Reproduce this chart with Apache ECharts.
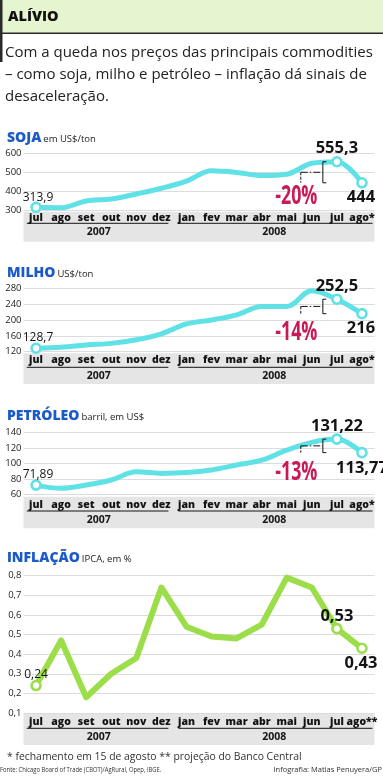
<!DOCTYPE html>
<html>
<head>
<meta charset="utf-8">
<script src="https://cdn.jsdelivr.net/npm/echarts@6/dist/echarts.min.js"></script>
<style>
html,body{margin:0;padding:0;background:#fff;}
#c{width:383px;height:776px;}
</style>
</head>
<body>
<div id="c"></div>
<script>
// ---- data ----
const months = ['jul','ago','set','out','nov','dez','jan','fev','mar','abr','mai','jun','jul','ago*'];
const monthsInfl = ['jul','ago','set','out','nov','dez','jan','fev','mar','abr','mai','jun','jul','ago**'];
const years = ['2007','2008'];
const soja = [313.9, 312, 348, 358, 385, 415, 453, 508, 499, 482, 489, 547, 555.3, 444];
const milho = [128.7, 131, 137, 141, 150, 165, 190, 200, 213, 234, 234, 274, 252.5, 216];
const petroleo = [71.89, 67.7, 72, 78.5, 89, 87, 88, 91.4, 97.8, 104, 117, 127, 131.22, 113.77];
const inflacao = [0.24, 0.47, 0.18, 0.30, 0.38, 0.74, 0.54, 0.49, 0.48, 0.55, 0.79, 0.74, 0.53, 0.43];
const sojaTicks = [300, 600, 100];
const milhoTicks = [120, 280, 40];
const petroleoTicks = [60, 140, 20];
const inflacaoTicks = [0.1, 0.8, 0.1];
const pctLabels = ['-20%', '-14%', '-13%'];
const markedIdx = [0, 12, 13];

// ---- style ----
const FONT = '"Open Sans", "Noto Sans", sans-serif';
const CYAN = '#5fe1e5';
const GREEN = '#9cde4a';
const BLUE = '#1b5bc9';
const RED = '#c81a55';
const INK = '#141414';

const fmt = v => String(v).replace('.', ',');

const panels = [
  {title:'SOJA', unit:'em US$/ton', values:soja, cats:months, ticks:sojaTicks, dec:0,
   color:CYAN, lw:5, smooth:0.35, top:153.3, h:56.7, titleY:138,
   bandTop:211.7, bandH:30, margin:1.7, ulY:223.3, yearY:232.3,
   offs:[[2,-9.5],[0,-13.5],[-1,14.5]], pct:pctLabels[0], pctY:196},
  {title:'MILHO', unit:'US$/ton', values:milho, cats:months, ticks:milhoTicks, dec:0,
   color:CYAN, lw:5, smooth:0.35, top:288.3, h:63.4, titleY:272.8,
   bandTop:353.3, bandH:30.7, margin:2.3, ulY:367.3, yearY:376,
   offs:[[2,-11],[0,-13.3],[-1,15]], pct:pctLabels[1], pctY:332},
  {title:'PETRÓLEO', unit:'barril, em US$', values:petroleo, cats:months, ticks:petroleoTicks, dec:0,
   color:CYAN, lw:5, smooth:0.35, top:432.3, h:62, titleY:416,
   bandTop:496.7, bandH:31.6, margin:4.7, ulY:511, yearY:520,
   offs:[[2,-11],[0,-13.3],[0,16]], pct:pctLabels[2], pctY:472},
  {title:'INFLAÇÃO', unit:'IPCA, em %', values:inflacao, cats:monthsInfl, ticks:inflacaoTicks, dec:1,
   color:GREEN, lw:6, smooth:false, top:575.7, h:137.3, titleY:558,
   bandTop:713, bandH:32, margin:2.7, ulY:728.3, yearY:737.3,
   offs:[[0,-11],[0,-12.7],[-1,15.4]], pct:null}
];

const GL = 23.5, GW = 351;

const chart = echarts.init(document.getElementById('c'), null, {renderer:'canvas'});

const grid = [], xAxis = [], yAxis = [], series = [];
panels.forEach((p, i) => {
  grid.push({left:GL, width:GW, top:p.top, height:p.h, outerBoundsMode:'none', containLabel:false});
  xAxis.push({
    type:'category', gridIndex:i, data:p.cats, boundaryGap:true,
    axisLine:{show:false}, axisTick:{show:false}, splitLine:{show:false},
    axisLabel:{interval:0, margin:p.margin, fontFamily:FONT, fontSize:10.5, fontWeight:800,
               color:INK, lineHeight:12}
  });
  yAxis.push({
    type:'value', gridIndex:i, min:p.ticks[0], max:p.ticks[1], interval:p.ticks[2],
    axisLine:{show:false}, axisTick:{show:false},
    splitLine:{show:true, lineStyle:{color:'#dcdcdc', width:1}},
    axisLabel:{margin:2, fontFamily:FONT, fontSize:9.5, color:'#222',
               formatter: v => p.dec ? v.toFixed(p.dec).replace('.', ',') : String(Math.round(v))}
  });
  series.push({
    type:'line', xAxisIndex:i, yAxisIndex:i, data:p.values, symbol:'none',
    smooth:p.smooth, z:2,
    lineStyle:{color:p.color, width:p.lw, cap:'round', join:'round'}
  });
  series.push({
    type:'scatter', xAxisIndex:i, yAxisIndex:i, z:3,
    symbol:'circle', symbolSize:9,
    itemStyle:{color:'#fff', borderColor:p.color, borderWidth:2.6, opacity:1},
    data: markedIdx.map((k, j) => ({
      value:[k, p.values[k]],
      label:{show:true, position:'inside', offset:p.offs[j],
             formatter: fmt(p.values[k]),
             fontFamily:FONT, color:INK,
             fontSize: j === 0 ? 12 : 16.5,
             fontWeight: j === 0 ? 'normal' : 'bold'}
    }))
  });
});

chart.setOption({animation:false, grid, xAxis, yAxis, series});

// ---- decorations ----
const ctx = document.createElement('canvas').getContext('2d');
function textW(font, s){ ctx.font = font; return ctx.measureText(s).width; }

function txt(x, y, s, font, fill, align, valign, extra){
  return Object.assign({type:'text', x, y, z:100, silent:true,
    style:{text:s, font, fill, align:align||'left', textAlign:align||'left',
           verticalAlign:valign||'middle', textVerticalAlign:valign||'middle'}}, extra||{});
}
function ln(x1, y1, x2, y2, dash, w){
  return {type:'line', z:100, silent:true, shape:{x1, y1, x2, y2},
          style:{stroke:INK, lineWidth:w||1, lineDash:dash||null}};
}

const g = [];
// header
g.push({type:'rect', z:-5, silent:true, shape:{x:0, y:0, width:383, height:33}, style:{fill:'#e4f5cf'}});
g.push({type:'rect', z:101, silent:true, shape:{x:0, y:32.5, width:383, height:1.4}, style:{fill:'#2a2a2a'}});
g.push({type:'rect', z:101, silent:true, shape:{x:0, y:0, width:2.5, height:62}, style:{fill:'#2a2a2a'}});
g.push(txt(8, 16.5, 'ALÍVIO', '800 14.5px ' + FONT, '#111'));
const sub = ['Com a queda nos preços das principais commodities',
             '– como soja, milho e petróleo – inflação dá sinais de',
             'desaceleração.'];
sub.forEach((s, i) => g.push(txt(5, 53 + i * 21.7, s, '15px ' + FONT, '#222')));

panels.forEach((p, i) => {
  const pt = (k, v) => chart.convertToPixel({gridIndex:i}, [k, v]);
  const X = k => pt(k, p.ticks[0])[0];
  const Y = v => pt(0, v)[1];
  const s = X(1) - X(0);
  // title
  const tf = '800 14px ' + FONT;
  g.push(txt(7, p.titleY, p.title, tf, BLUE));
  const tw = textW(tf, p.title);
  g.push(txt(7 + tw + 2, p.titleY + 1, p.unit, '9.5px ' + FONT, '#222'));
  // band
  g.push({type:'rect', z:-5, silent:true, shape:{x:GL, y:p.bandTop, width:GW, height:p.bandH}, style:{fill:'#e5e5e5'}});
  // underlines and years
  const a0 = X(0) - 0.37 * s, a1 = X(5) + 0.28 * s, b0 = X(6) - 0.32 * s, b1 = X(13) + 0.42 * s;
  g.push(ln(a0, p.ulY, a1, p.ulY, null, 1));
  g.push(ln(b0, p.ulY, b1, p.ulY, null, 1));
  g.push(txt((X(0) + X(5)) / 2, p.yearY, years[0], 'bold 10.5px ' + FONT, INK, 'center'));
  g.push(txt((X(6) + X(13)) / 2, p.yearY, years[1], 'bold 10.5px ' + FONT, INK, 'center'));
  // bracket annotation
  if (p.pct) {
    const xL = X(10) + 0.56 * s, xR = X(11) + 0.44 * s;
    const yHi = Y(p.values[12]), yLo = Y(p.values[13]), yMid = (yHi + yLo) / 2;
    g.push(ln(xL, yMid, xR, yMid, [7, 2, 1.5, 2], 1));
    g.push(ln(xL, yMid, xL, yLo, [3, 1.5], 1));
    g.push({type:'polyline', z:100, silent:true,
            shape:{points:[[xR + 3.5, yHi], [xR, yHi], [xR, yLo], [xR + 3.5, yLo]]},
            style:{stroke:INK, lineWidth:1, fill:null}});
    g.push(txt(xL - 4.5, p.pctY, p.pct, 'bold 27px ' + FONT, RED, 'center', 'middle', {scaleX:0.66}));
  }
});

// footnotes
g.push(txt(7, 757, '* fechamento em 15 de agosto ** projeção do Banco Central', '10.5px ' + FONT, '#333', 'left', 'middle', {scaleX:0.99}));
g.push(txt(0, 770, 'Fonte: Chicago Board of Trade (CBOT)/AgRural, Opep, IBGE.', '7.5px ' + FONT, '#333', 'left', 'middle', {scaleX:0.78}));
g.push(txt(382, 770, 'Infografia: Matias Penuyera/GP', '7.5px ' + FONT, '#333', 'right', 'middle', {scaleX:1.0}));

chart.setOption({graphic: g});
</script>
</body>
</html>
